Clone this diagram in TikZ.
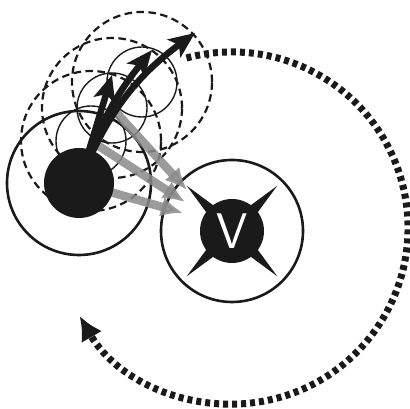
\documentclass[tikz,border=0pt]{standalone}
\usepackage{tikz}
\usetikzlibrary{arrows.meta}
\definecolor{ink}{HTML}{1A1A1A}
\definecolor{haze}{HTML}{8A8A8A}
\tikzset{>=Latex,robot/.style={circle,fill=ink,inner sep=0pt,minimum size=70pt},sense/.style={ink,line width=2.2pt,dash pattern=on 7.5pt off 4.5pt},trail/.style={ink,line width=1.4pt},reach/.style={ink,line width=2.6pt},push/.style={-{Latex[length=22pt,width=20pt]},line width=8.5pt,haze,opacity=.85},move/.style={-{Stealth[length=26pt,width=22pt,inset=6pt]},line width=6.5pt,ink},orbit/.style={-{Latex[length=24pt,width=24pt]},line width=7pt,ink,dash pattern=on 5pt off 4pt}}

\begin{document}
\begin{tikzpicture}[x=1pt,y=1pt]
\useasboundingbox (0,0) rectangle (410,409);
% robot and its earlier positions
\coordinate (P0) at (79,226);
\coordinate (P1) at (91,268);
\coordinate (P2) at (112,301);
\coordinate (P3) at (142,327);
\coordinate (Vc) at (232,178);
\coordinate (O) at (232,181);
\foreach \p in {P1,P2,P3}{\draw[sense] (\p) circle[radius=70];}
\foreach \p in {P1,P2,P3}{\draw[trail] (\p) circle[radius=35];}
\draw[reach] (P0) circle[radius=72];
% the V agent
\draw[reach] (Vc) circle[radius=71];
\foreach \a in {45,135,225,315}{\fill[ink] ([shift={(\a:64)}]Vc) -- ([shift={(\a-13:26)}]Vc) -- ([shift={(\a+13:26)}]Vc) -- cycle;}
\node[robot,minimum size=64pt,text=white,font=\sffamily\fontsize{50}{50}\selectfont] (V) at (Vc) {V};
% pushes towards V
\coordinate (g1) at (187,219);
\coordinate (g2) at (185,207);
\coordinate (g3) at (183,196);
\draw[push] (P2) -- (g1);
\draw[push] (P1) -- (g2);
\draw[push] (P0) -- (g3);
\node[robot] (D) at (P0) {};
\draw[orbit] ([shift={(105:176)}]O) arc[start angle=105,end angle=-150,radius=176];
% moves
\coordinate (m1) at (112,334);
\coordinate (m2) at (152,359);
\coordinate (m3) at (195,376);
\draw[move] (D.center) -- (m1);
\draw[move] (D.center) to[bend left=10] (m2);
\draw[move] (D.center) to[bend left=16] (m3);
\end{tikzpicture}
\end{document}
